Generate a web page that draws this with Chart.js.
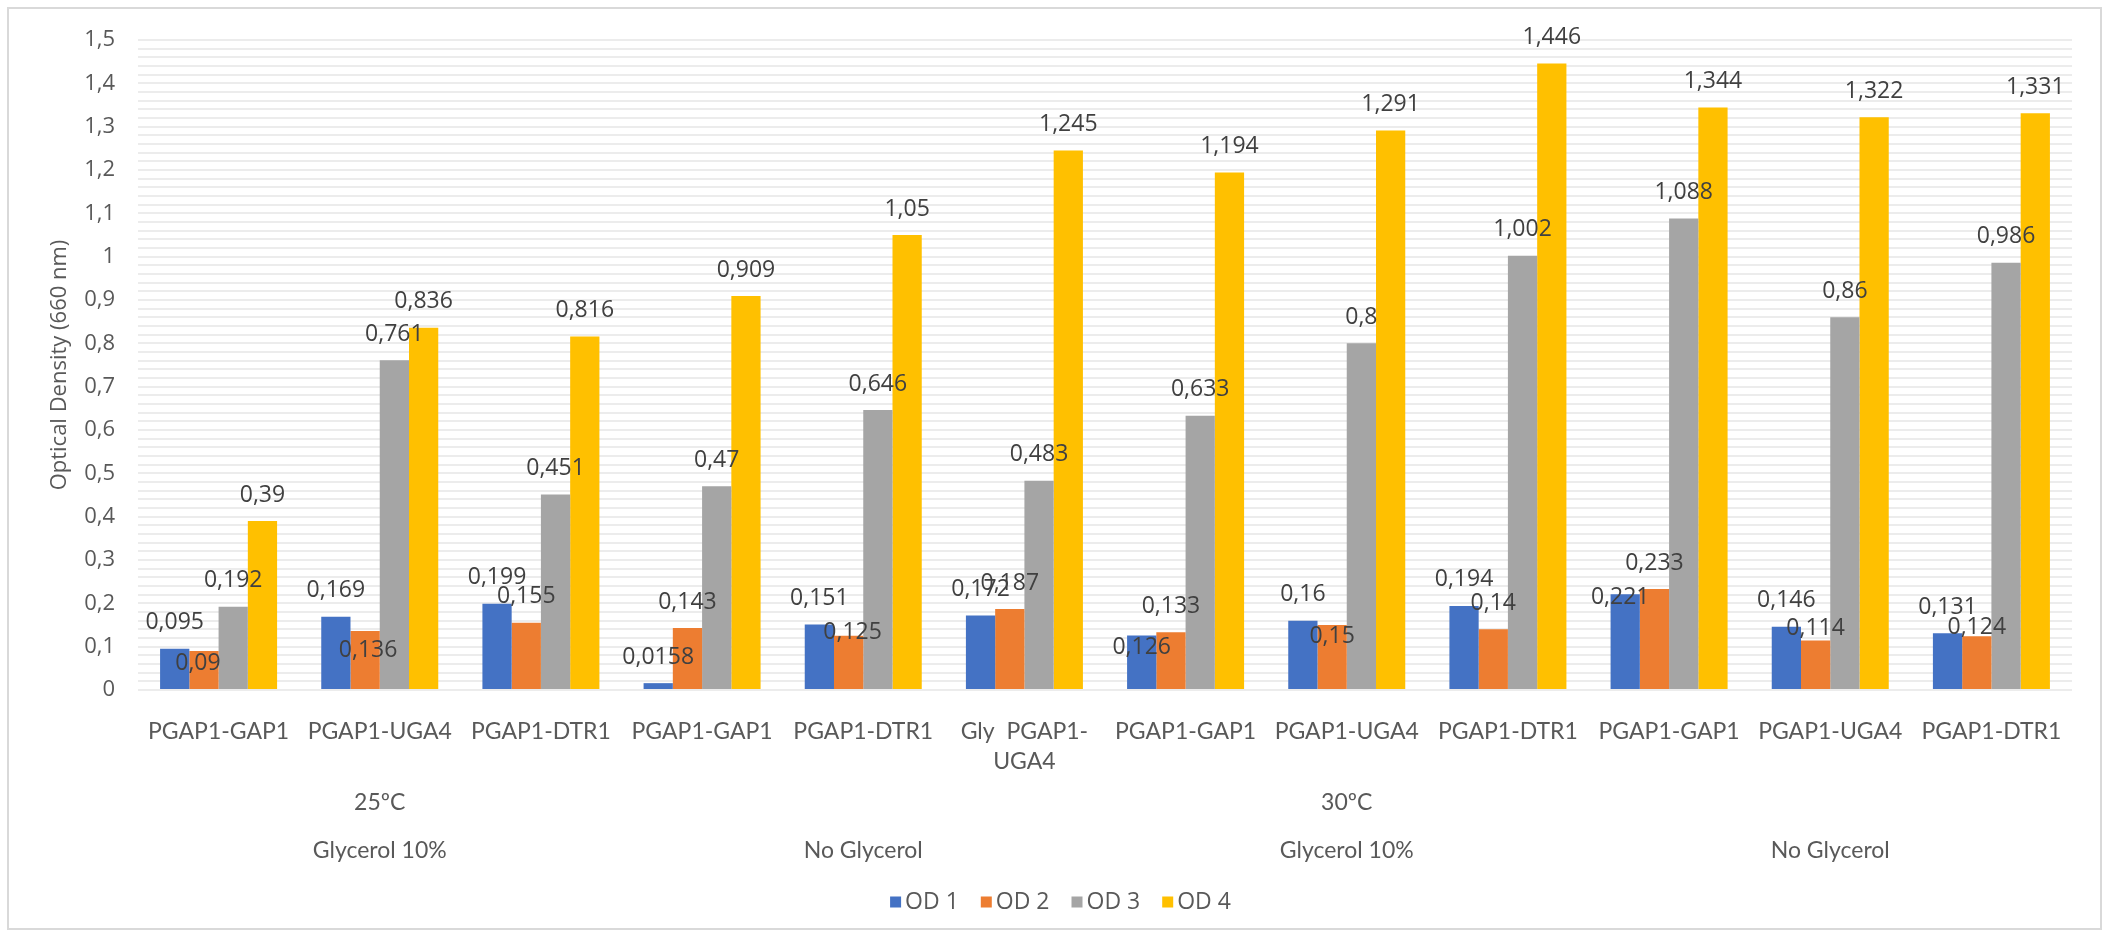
<!DOCTYPE html>
<html>
<head>
<meta charset="utf-8">
<title>Optical Density (660 nm)</title>
<script src="https://cdn.jsdelivr.net/npm/chart.js"></script>
<style>
  html, body { margin: 0; padding: 0; background: #ffffff; }
  #wrap { width: 2109px; height: 938px; }
</style>
</head>
<body>
<div id="wrap"><canvas id="odChart" width="2109" height="938"></canvas></div>
<script>
// strains (bottom axis), one row per well set
const categories = [
  'PGAP1-GAP1', 'PGAP1-UGA4', 'PGAP1-DTR1',
  'PGAP1-GAP1', 'PGAP1-DTR1', ['Gly  PGAP1-', 'UGA4'],
  'PGAP1-GAP1', 'PGAP1-UGA4', 'PGAP1-DTR1',
  'PGAP1-GAP1', 'PGAP1-UGA4', 'PGAP1-DTR1'
];
// each condition covers three strains, each temperature six
const conditions = ['Glycerol 10%', 'No Glycerol', 'Glycerol 10%', 'No Glycerol'];
const temperatures = ['25ºC', '30ºC'];

const seriesNames = ['OD 1', 'OD 2', 'OD 3', 'OD 4'];
const od1 = [0.095, 0.169, 0.199, 0.0158, 0.151, 0.172, 0.126, 0.16, 0.194, 0.221, 0.146, 0.131];
const od2 = [0.09, 0.136, 0.155, 0.143, 0.125, 0.187, 0.133, 0.15, 0.14, 0.233, 0.114, 0.124];
const od3 = [0.192, 0.761, 0.451, 0.47, 0.646, 0.483, 0.633, 0.8, 1.002, 1.088, 0.86, 0.986];
const od4 = [0.39, 0.836, 0.816, 0.909, 1.05, 1.245, 1.194, 1.291, 1.446, 1.344, 1.322, 1.331];

const yTickLabels = ['0', '0,1', '0,2', '0,3', '0,4', '0,5', '0,6', '0,7',
  '0,8', '0,9', '1', '1,1', '1,2', '1,3', '1,4', '1,5'];

const colors = ['#4472C4', '#ED7D31', '#A5A5A5', '#FFC000'];
const textGrey = '#595959';

const fmt = v => String(v).replace('.', ',');

// value labels above each bar; a few are pushed down where they collide
const valueLabels = {
  id: 'valueLabels',
  afterDatasetsDraw(chart, args, opts) {
    const ctx = chart.ctx;
    ctx.save();
    ctx.font = '23px "Open Sans"';
    ctx.fillStyle = '#404040';
    ctx.textAlign = 'center';
    ctx.textBaseline = 'middle';
    chart.data.datasets.forEach((ds, di) => {
      chart.getDatasetMeta(di).data.forEach((bar, i) => {
        const nudge = opts.nudge[di + ':' + i] || [0, 0];
        ctx.fillText(fmt(ds.data[i]), bar.x + nudge[0], bar.y - 26 + nudge[1]);
      });
    });
    ctx.restore();
  }
};

// frame, grouped category rows and legend
const decorations = {
  id: 'decorations',
  beforeDraw(chart) {
    const ctx = chart.ctx;
    ctx.save();
    ctx.fillStyle = '#ffffff';
    ctx.fillRect(0, 0, chart.width, chart.height);
    ctx.strokeStyle = '#d9d9d9';
    ctx.lineWidth = 2;
    ctx.strokeRect(8, 8, 2093, 921);
    ctx.restore();
  },
  afterDraw(chart) {
    const ctx = chart.ctx;
    const x = chart.scales.x;
    const mid = (a, b) => (x.getPixelForValue(a) + x.getPixelForValue(b)) / 2;
    ctx.save();
    ctx.font = '23px Lato';
    ctx.fillStyle = textGrey;
    ctx.textAlign = 'center';
    ctx.textBaseline = 'middle';
    temperatures.forEach((t, i) => {
      ctx.fillText(t, mid(i * 6, i * 6 + 2), 803);
    });
    conditions.forEach((c, i) => {
      ctx.fillText(c, mid(i * 3, i * 3 + 2), 851);
    });

    ctx.font = '23px "Open Sans"';
    ctx.textAlign = 'left';
    const box = 11, gap = 4, spacing = 22;
    const widths = seriesNames.map(n => ctx.measureText(n).width);
    const total = widths.reduce((s, w) => s + box + gap + w, 0) + spacing * (seriesNames.length - 1);
    let lx = chart.width / 2 + 6 - total / 2;
    const ly = 902;
    seriesNames.forEach((n, i) => {
      ctx.fillStyle = colors[i];
      ctx.fillRect(lx, ly - box / 2, box, box);
      ctx.fillStyle = textGrey;
      ctx.fillText(n, lx + box + gap, ly);
      lx += box + gap + widths[i] + spacing;
    });
    ctx.restore();
  }
};

const ctx = document.getElementById('odChart').getContext('2d');
new Chart(ctx, {
  type: 'bar',
  data: {
    labels: categories,
    datasets: [od1, od2, od3, od4].map((d, i) => ({
      label: seriesNames[i],
      data: d,
      backgroundColor: colors[i],
      borderWidth: 0,
      categoryPercentage: 0.726,
      barPercentage: 1.0
    }))
  },
  options: {
    responsive: false,
    animation: false,
    layout: { padding: { left: 40, right: 37, top: 40, bottom: 0 } },
    plugins: {
      legend: { display: false },
      tooltip: { enabled: false },
      valueLabels: {
        nudge: {
          '1:0': [-6, 38], '1:1': [3, 45], '1:4': [4, 23], '0:6': [0, 38],
          '1:7': [0, 37], '0:9': [-5, 29], '1:10': [0, 14], '1:11': [0, 17]
        }
      }
    },
    scales: {
      x: {
        grid: { display: false },
        border: { display: false },
        ticks: {
          autoSkip: false,
          maxRotation: 0,
          padding: 19,
          color: textGrey,
          font: { family: 'Lato', size: 23, lineHeight: 1.28 }
        },
        afterFit(scale) { scale.height = 248; }
      },
      y: {
        min: 0,
        max: 1.5,
        grid: { color: '#ececec', lineWidth: 2, drawTicks: false },
        border: { display: false },
        ticks: {
          stepSize: 0.02,
          maxTicksLimit: 100,
          autoSkip: false,
          padding: 23,
          color: textGrey,
          font: { family: 'Open Sans', size: 22 },
          callback: value => {
            const k = Math.round(value * 50);
            return k % 5 === 0 ? yTickLabels[k / 5] : '';
          }
        },
        title: {
          display: true,
          text: 'Optical Density (660 nm)',
          color: textGrey,
          font: { family: 'Open Sans', size: 22 },
          padding: { top: 7, bottom: 0 }
        },
        afterFit(scale) { scale.width = 98; }
      }
    }
  },
  plugins: [valueLabels, decorations]
});
</script>
</body>
</html>
